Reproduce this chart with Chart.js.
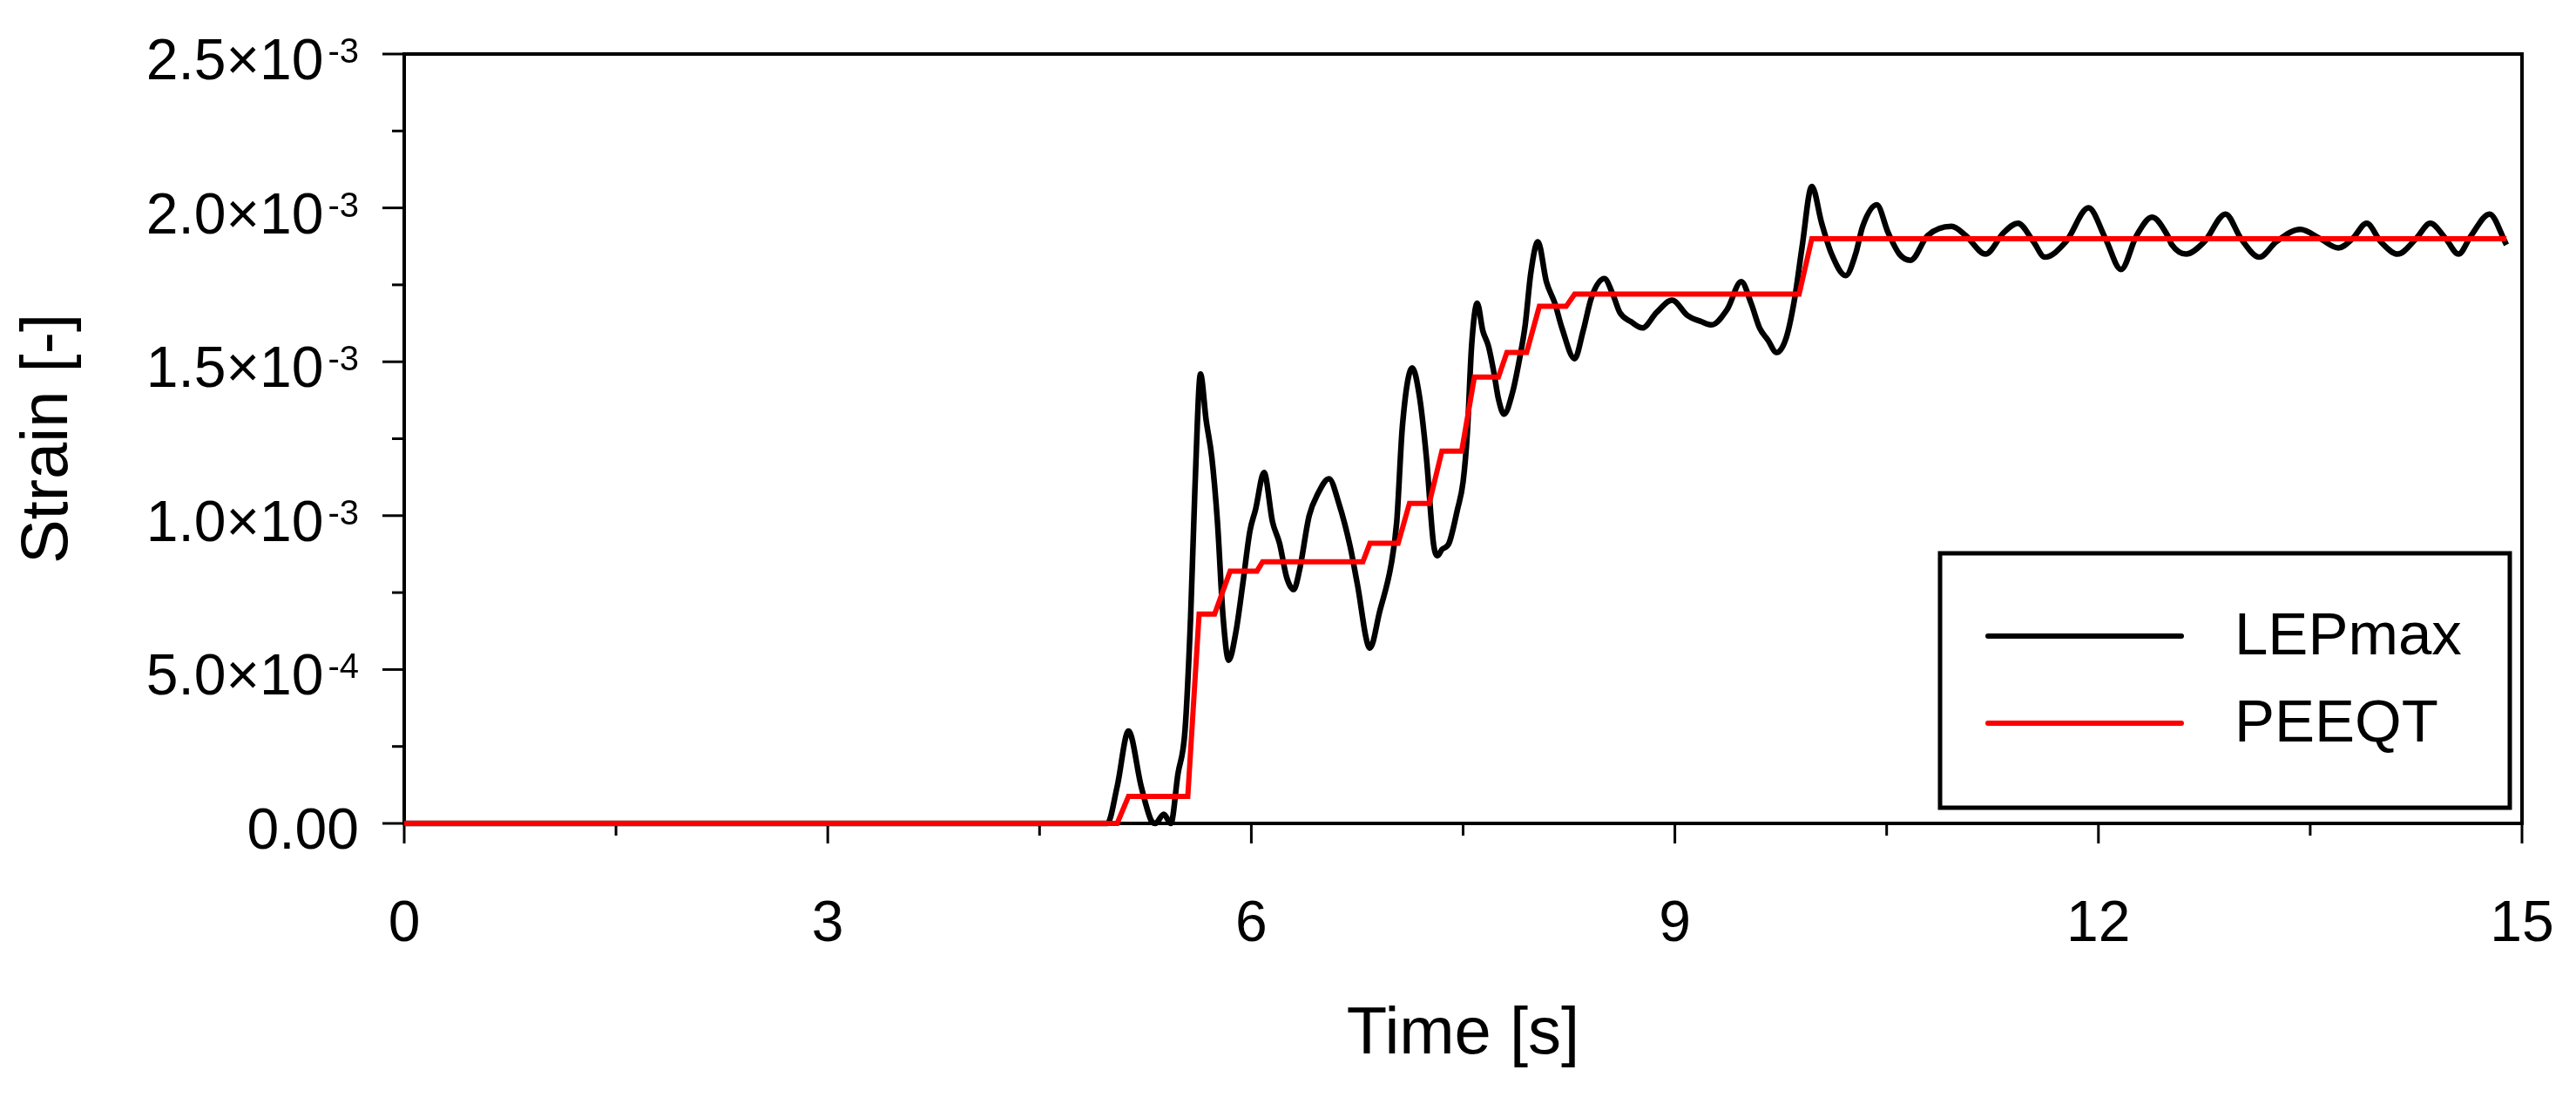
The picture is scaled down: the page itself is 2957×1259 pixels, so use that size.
<!DOCTYPE html>
<html>
<head>
<meta charset="utf-8">
<script src="https://cdn.jsdelivr.net/npm/chart.js@4.4.1/dist/chart.umd.min.js"></script>
<style>
  html, body { margin: 0; padding: 0; background: #fff; }
  #wrap { width: 2957px; height: 1259px; }
</style>
</head>
<body>
<div id="wrap"><canvas id="strainChart" width="2957" height="1259"></canvas></div>
<script>
// LEPmax, time [s] / strain [x1e-3]
const lepTime = [0, 4.98, 5.05, 5.13, 5.22, 5.29, 5.32, 5.38, 5.43, 5.48, 5.53, 5.57, 5.60, 5.64, 5.68,
  5.72, 5.76, 5.80, 5.84, 5.89, 5.94, 5.99, 6.03, 6.09, 6.15, 6.20, 6.25, 6.30, 6.34, 6.41, 6.47,
  6.55, 6.62, 6.70, 6.75, 6.84, 6.91, 6.99, 7.03, 7.07, 7.14, 7.19, 7.24, 7.29, 7.32, 7.35, 7.40,
  7.46, 7.50, 7.53, 7.56, 7.60, 7.64, 7.68, 7.72, 7.75, 7.79, 7.85, 7.90, 7.94, 7.98, 8.03, 8.09,
  8.15, 8.20, 8.29, 8.35, 8.41, 8.50, 8.56, 8.61, 8.69, 8.77, 8.87, 8.98, 9.09, 9.19, 9.26, 9.37,
  9.47, 9.54, 9.60, 9.66, 9.72, 9.79, 9.85, 9.90, 9.97, 10.04, 10.11, 10.21, 10.28, 10.33, 10.43,
  10.51, 10.59, 10.67, 10.79, 10.96, 11.06, 11.20, 11.33, 11.43, 11.54, 11.62, 11.77, 11.93, 12.05,
  12.16, 12.27, 12.38, 12.49, 12.52, 12.62, 12.75, 12.90, 13.01, 13.14, 13.26, 13.43, 13.57, 13.70,
  13.80, 13.90, 14.00, 14.12, 14.25, 14.35, 14.46, 14.55, 14.64, 14.77, 14.89];
const lepStrain = [0, 0, 0.12, 0.30, 0.12, 0.01, 0.0, 0.03, 0.0, 0.16, 0.30, 0.67, 1.08, 1.46, 1.31,
  1.19, 0.98, 0.67, 0.53, 0.62, 0.78, 0.95, 1.02, 1.14, 0.98, 0.91, 0.80, 0.76, 0.82, 1.00, 1.07,
  1.12, 1.04, 0.90, 0.78, 0.57, 0.69, 0.84, 0.98, 1.29, 1.48, 1.39, 1.19, 0.91, 0.87, 0.89, 0.91,
  1.02, 1.11, 1.27, 1.55, 1.69, 1.60, 1.55, 1.46, 1.38, 1.33, 1.40, 1.51, 1.62, 1.79, 1.89, 1.76,
  1.69, 1.61, 1.51, 1.60, 1.71, 1.77, 1.72, 1.66, 1.63, 1.61, 1.66, 1.70, 1.65, 1.63, 1.62, 1.67,
  1.76, 1.69, 1.61, 1.57, 1.53, 1.58, 1.71, 1.87, 2.07, 1.95, 1.85, 1.78, 1.85, 1.94, 2.01,
  1.92, 1.85, 1.83, 1.91, 1.94, 1.91, 1.85, 1.92, 1.95, 1.89, 1.84, 1.89, 2.00, 1.90,
  1.80, 1.91, 1.97, 1.91, 1.88, 1.85, 1.89, 1.98, 1.90, 1.84, 1.89, 1.93, 1.90, 1.87,
  1.90, 1.95, 1.89, 1.85, 1.90, 1.95, 1.90, 1.85, 1.91, 1.98, 1.88];

// PEEQT, time [s] / strain [x1e-3]
const peeqTime = [0, 5.05, 5.13, 5.55, 5.63, 5.74, 5.85, 6.04, 6.08, 6.79, 6.84, 7.04, 7.12, 7.26,
  7.35, 7.49, 7.58, 7.75, 7.81, 7.95, 8.04, 8.23, 8.29, 9.88, 9.97, 14.89];
const peeqStrain = [0, 0, 0.088, 0.088, 0.68, 0.68, 0.82, 0.82, 0.85, 0.85, 0.91, 0.91, 1.04, 1.04,
  1.21, 1.21, 1.45, 1.45, 1.53, 1.53, 1.68, 1.68, 1.72, 1.72, 1.90, 1.90];

// y tick labels (major ticks), mantissa + exponent
const yTickMain = ["0.00", "5.0×10", "1.0×10", "1.5×10", "2.0×10", "2.5×10"];
const yTickExp = ["", "-4", "-3", "-3", "-3", "-3"];

const FONT = "'Liberation Sans', Arial, sans-serif";
Chart.defaults.font.family = FONT;
Chart.defaults.color = "#000";

const toPoints = (ts, vs) => ts.map((t, i) => ({ x: t, y: vs[i] * 1e-3 }));

// ticks, frame and y labels
const axisDecor = {
  id: "axisDecor",
  beforeDatasetsDraw(chart) {
    const { ctx, chartArea: a, scales: { x, y } } = chart;
    ctx.save();
    ctx.strokeStyle = "#000";
    ctx.fillStyle = "#000";
    ctx.lineWidth = 3;
    y.ticks.forEach(t => {
      const k = Math.round(t.value / 0.25e-3);
      const py = y.getPixelForValue(t.value);
      const len = k % 2 === 0 ? 25 : 14;
      ctx.beginPath();
      ctx.moveTo(a.left - len, py);
      ctx.lineTo(a.left, py);
      ctx.stroke();
      if (k % 2 === 0) {
        const j = k / 2;
        const right = a.left - 52;
        ctx.textAlign = "right";
        ctx.textBaseline = "alphabetic";
        let w = 0;
        if (yTickExp[j]) {
          ctx.font = "40px " + FONT;
          ctx.fillText(yTickExp[j], right, py + 10);
          w = ctx.measureText(yTickExp[j]).width + 5;
        }
        ctx.font = "66px " + FONT;
        ctx.fillText(yTickMain[j], right - w, py + 29);
      }
    });
    x.ticks.forEach(t => {
      const k = Math.round(t.value / 1.5);
      const px = x.getPixelForValue(t.value);
      const len = k % 2 === 0 ? 23 : 14;
      ctx.beginPath();
      ctx.moveTo(px, a.bottom);
      ctx.lineTo(px, a.bottom + len);
      ctx.stroke();
    });
    ctx.lineWidth = 4;
    ctx.strokeRect(a.left, a.top, a.right - a.left, a.bottom - a.top);
    ctx.restore();
  },
  afterDraw(chart) {
    // legend box, bottom right inside the plot
    const { ctx, chartArea: a } = chart;
    const bw = 654, bh = 292;
    const bx = a.right - 14 - bw, by = a.bottom - 18 - bh;
    ctx.save();
    ctx.fillStyle = "#fff";
    ctx.fillRect(bx, by, bw, bh);
    ctx.strokeStyle = "#000";
    ctx.lineWidth = 5;
    ctx.strokeRect(bx, by, bw, bh);
    const rows = [chart.data.datasets[0], chart.data.datasets[1]];
    rows.forEach((ds, i) => {
      const ly = by + 95 + i * 100;
      ctx.strokeStyle = ds.borderColor;
      ctx.lineWidth = 6;
      ctx.lineCap = "round";
      ctx.beginPath();
      ctx.moveTo(bx + 55, ly);
      ctx.lineTo(bx + 277, ly);
      ctx.stroke();
      ctx.fillStyle = "#000";
      ctx.font = "69px " + FONT;
      ctx.textAlign = "left";
      ctx.textBaseline = "middle";
      ctx.fillText(ds.label, bx + 338, ly + 2);
    });
    ctx.restore();
  }
};

new Chart(document.getElementById("strainChart"), {
  type: "line",
  data: {
    datasets: [
      {
        label: "LEPmax",
        data: toPoints(lepTime, lepStrain),
        borderColor: "#000000",
        borderWidth: 6.5,
        pointRadius: 0,
        cubicInterpolationMode: "monotone",
        clip: 8,
        order: 1
      },
      {
        label: "PEEQT",
        data: toPoints(peeqTime, peeqStrain),
        borderColor: "#ff0000",
        borderWidth: 6,
        pointRadius: 0,
        tension: 0,
        clip: 8,
        order: 0
      }
    ]
  },
  options: {
    responsive: false,
    animation: false,
    devicePixelRatio: 1,
    layout: { padding: { left: 0, right: 62, top: 62, bottom: 0 } },
    plugins: { legend: { display: false }, tooltip: { enabled: false } },
    scales: {
      x: {
        type: "linear",
        min: 0,
        max: 15,
        afterFit: s => { s.height = 314; s.paddingLeft = 0; s.paddingRight = 0; },
        border: { display: false },
        grid: { display: true, drawOnChartArea: false, drawTicks: true, tickLength: 23, tickColor: "rgba(0,0,0,0)" },
        ticks: {
          stepSize: 1.5,
          padding: 54,
          maxRotation: 0,
          autoSkip: false,
          font: { size: 66 },
          callback: v => (Math.round(v / 1.5) % 2 === 0 ? String(v) : "")
        },
        title: { display: true, text: "Time [s]", font: { size: 76 }, padding: { bottom: 25 } }
      },
      y: {
        min: 0,
        max: 2.5e-3,
        afterFit: s => { s.width = 464; s.paddingTop = 0; s.paddingBottom = 0; },
        border: { display: false },
        grid: { display: false },
        ticks: { stepSize: 0.25e-3, display: false },
        title: { display: true, text: "Strain [-]", font: { size: 76 }, padding: { top: 10 } }
      }
    }
  },
  plugins: [axisDecor]
});
</script>
</body>
</html>
